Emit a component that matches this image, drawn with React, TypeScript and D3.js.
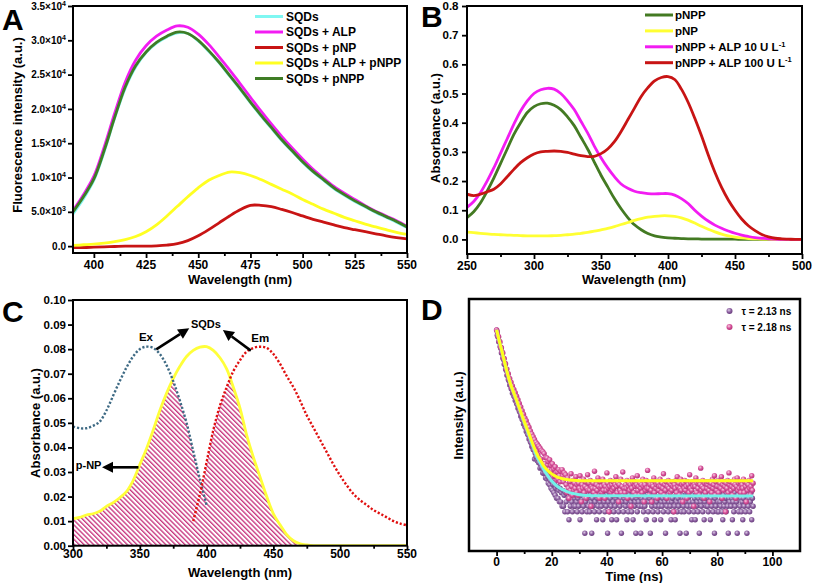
import React, { useEffect, useRef } from 'react';
import * as d3 from 'd3';

const FONT = '"Liberation Sans", Arial, Helvetica, sans-serif';

// ---------------- Panel A : fluorescence spectra ----------------
const A_WAVELENGTH = d3.range(390, 551, 5);
const A_SQDS = [4700, 6900, 9600, 13800, 18700, 23000, 26100, 28200, 29600, 30500, 31100, 31000, 29900, 28400, 26700, 24800, 22900, 20900, 19000, 17200, 15400, 13800, 12200, 10800, 9600, 8400, 7400, 6500, 5700, 4900, 4200, 3500, 2700];
const A_SQDS_ALP = [5200, 7500, 10200, 14500, 19400, 23900, 27100, 29200, 30600, 31500, 32100, 31900, 30900, 29400, 27600, 25700, 23700, 21700, 19700, 17800, 16000, 14300, 12700, 11200, 9900, 8700, 7700, 6800, 5900, 5100, 4400, 3700, 2900];
const A_SQDS_PNP = [-200, -200, -150, -100, -50, 0, 0, 0, 50, 150, 350, 800, 1500, 2400, 3400, 4400, 5300, 5950, 5950, 5750, 5350, 4900, 4400, 3900, 3500, 3100, 2700, 2400, 2100, 1800, 1500, 1250, 1050];
const A_SQDS_ALP_PNPP = [100, 200, 300, 450, 650, 950, 1400, 2100, 3100, 4400, 5800, 7200, 8500, 9600, 10300, 10800, 10700, 10300, 9700, 9000, 8300, 7600, 6800, 6100, 5400, 4800, 4200, 3700, 3200, 2800, 2400, 2000, 1700];
const A_SQDS_PNPP = [5000, 7200, 9800, 14000, 18800, 23200, 26300, 28300, 29700, 30600, 31200, 31000, 30000, 28500, 26800, 24900, 23000, 21000, 19100, 17300, 15500, 13900, 12300, 10900, 9700, 8500, 7500, 6600, 5800, 5000, 4300, 3600, 2800];
const A_NAMES = ['SQDs', 'SQDs + ALP', 'SQDs + pNP', 'SQDs + ALP + pNPP', 'SQDs + pNPP'];
const A_COLORS = ['#7ff7f2', '#f21cf2', '#c81414', '#ffff22', '#3f7d25'];
const A_VALUES = [A_SQDS, A_SQDS_ALP, A_SQDS_PNP, A_SQDS_ALP_PNPP, A_SQDS_PNPP];
const A_X_TICKS = [400, 425, 450, 475, 500, 525, 550];
const A_X_MINOR = [412.5, 437.5, 462.5, 487.5, 512.5, 537.5];
const A_Y_TICKS = [0, 5000, 10000, 15000, 20000, 25000, 30000, 35000];
const A_Y_MANTISSA = ['0.0', '5.0×10', '1.0×10', '1.5×10', '2.0×10', '2.5×10', '3.0×10', '3.5×10'];
const A_Y_EXPONENT = ['', '3', '4', '4', '4', '4', '4', '4'];

// ---------------- Panel B : absorbance spectra ----------------
const B_WAVELENGTH = d3.range(250, 501, 5);
const B_PNPP = [0.075, 0.095, 0.125, 0.165, 0.21, 0.26, 0.31, 0.36, 0.40, 0.435, 0.455, 0.465, 0.467, 0.46, 0.445, 0.42, 0.39, 0.35, 0.31, 0.265, 0.22, 0.18, 0.14, 0.105, 0.075, 0.05, 0.033, 0.02, 0.012, 0.008, 0.005, 0.004, 0.003, 0.002, 0.002, 0.001, 0.001, 0.001, 0.001, 0.001, 0.001, 0, 0, 0, 0, 0, 0, 0, 0, 0, 0];
const B_PNP = [0.025, 0.023, 0.021, 0.019, 0.017, 0.016, 0.015, 0.014, 0.013, 0.012, 0.012, 0.012, 0.012, 0.013, 0.014, 0.016, 0.018, 0.021, 0.024, 0.028, 0.033, 0.038, 0.044, 0.051, 0.058, 0.065, 0.071, 0.076, 0.079, 0.081, 0.081, 0.079, 0.074, 0.066, 0.056, 0.045, 0.035, 0.026, 0.018, 0.012, 0.008, 0.005, 0.003, 0.002, 0.001, 0.001, 0, 0, 0, 0, 0];
const B_ALP10 = [0.11, 0.13, 0.16, 0.20, 0.245, 0.295, 0.345, 0.395, 0.44, 0.475, 0.50, 0.513, 0.518, 0.515, 0.50, 0.475, 0.445, 0.405, 0.365, 0.32, 0.28, 0.245, 0.215, 0.19, 0.175, 0.165, 0.16, 0.157, 0.156, 0.157, 0.157, 0.152, 0.14, 0.123, 0.10, 0.08, 0.063, 0.049, 0.038, 0.029, 0.021, 0.015, 0.01, 0.006, 0.004, 0.002, 0.001, 0, 0, 0, 0];
const B_ALP100 = [0.155, 0.15, 0.155, 0.163, 0.172, 0.19, 0.215, 0.24, 0.263, 0.28, 0.293, 0.30, 0.302, 0.303, 0.302, 0.298, 0.292, 0.287, 0.284, 0.285, 0.294, 0.31, 0.335, 0.37, 0.41, 0.45, 0.49, 0.52, 0.543, 0.555, 0.558, 0.548, 0.515, 0.47, 0.415, 0.355, 0.29, 0.23, 0.178, 0.135, 0.10, 0.07, 0.047, 0.03, 0.017, 0.009, 0.004, 0.002, 0.001, 0, 0];
const B_NAMES = ['pNPP', 'pNP', 'pNPP + ALP 10 U L', 'pNPP + ALP 100 U L'];
const B_SUPER = ['', '', '-1', '-1'];
const B_COLORS = ['#437a22', '#ffff33', '#f21cf2', '#c81414'];
const B_VALUES = [B_PNPP, B_PNP, B_ALP10, B_ALP100];
const B_X_TICKS = [250, 300, 350, 400, 450, 500];
const B_X_MINOR = [275, 325, 375, 425, 475];
const B_Y_TICKS = [0, 0.1, 0.2, 0.3, 0.4, 0.5, 0.6, 0.7, 0.8];

// ---------------- Panel C : spectral overlap ----------------
const C_EX_WL = d3.range(300, 401, 5);
const C_EX = [0.0485, 0.0478, 0.0478, 0.0488, 0.0505, 0.055, 0.061, 0.067, 0.0725, 0.077, 0.080, 0.081, 0.0805, 0.078, 0.0735, 0.067, 0.059, 0.050, 0.0385, 0.027, 0.0165];
const C_EM_WL = d3.range(390, 551, 5);
const C_EM = [0.010, 0.021, 0.034, 0.047, 0.057, 0.0645, 0.071, 0.0755, 0.079, 0.0805, 0.081, 0.0805, 0.078, 0.074, 0.069, 0.0645, 0.059, 0.053, 0.048, 0.043, 0.038, 0.033, 0.0285, 0.0245, 0.021, 0.0185, 0.0165, 0.0145, 0.013, 0.0115, 0.010, 0.009, 0.0083];
const C_PNP_WL = d3.range(300, 551, 5);
const C_PNP = [0.011, 0.0115, 0.0125, 0.013, 0.014, 0.016, 0.0175, 0.0195, 0.022, 0.0265, 0.033, 0.0395, 0.047, 0.055, 0.062, 0.068, 0.073, 0.077, 0.0795, 0.0808, 0.081, 0.0795, 0.0765, 0.072, 0.0645, 0.056, 0.045, 0.036, 0.028, 0.020, 0.013, 0.0085, 0.0045, 0.002, 0.0008, 0.0003, 0, 0, 0, 0, 0, 0, 0, 0, 0, 0, 0, 0, 0, 0, 0];
const C_X_TICKS = [300, 350, 400, 450, 500, 550];
const C_X_MINOR = [325, 375, 425, 475, 525];
const C_Y_TICKS = [0, 0.01, 0.02, 0.03, 0.04, 0.05, 0.06, 0.07, 0.08, 0.09, 0.10];

// ---------------- Panel D : fluorescence decay (counts per 0.25 ns channel) ----------------
const D_STEP = 0.25;
const D_PINK_DECAY = [
  33100, 30100, 24300, 23200, 18600, 17800, 13700, 13300, 10700, 10200, 7800, 7660, 6030, 5880, 4430, 4460,
  3470, 3530, 2720, 2770, 2180, 2290, 1760, 1880, 1445, 1580, 1230, 1340, 1000, 1110, 840, 930,
  690, 770, 556, 645, 457, 530, 387, 443, 315, 367, 257, 316, 214, 263, 187, 227,
  151, 189, 123, 162, 107, 140, 85, 121, 71, 105, 67, 96, 55, 86, 46, 78,
  45, 69, 36, 65, 34, 59, 35, 48, 27, 47, 33, 39, 26, 43, 22, 32,
  25, 35, 18, 27, 19, 30, 22, 15, 23, 16, 26, 19, 14, 24, 17, 26, 19, 14, 22, 17, 20
];
const D_PINK_TAIL = [
  12, 8, 17, 10, 6, 14, 9, 21, 11, 7, 15, 9, 13, 10, 18, 8, 12,
  7, 13, 10, 19, 9, 5, 12, 10, 16, 8, 11, 14, 6, 10, 20, 9, 13,
  9, 15, 4, 11, 10, 13, 8, 24, 10, 7, 12, 9, 17, 11, 6, 14, 10,
  11, 8, 16, 9, 12, 6, 11, 9, 22, 13, 10, 3, 11, 15, 8, 12, 9,
  14, 10, 7, 12, 18, 11, 8, 13, 5, 12, 9, 16, 8, 11, 23, 7, 10,
  8, 12, 10, 15, 6, 11, 13, 9, 12, 4, 10, 17, 13, 8, 14, 11, 7,
  12, 19, 9, 11, 7, 13, 10, 12, 8, 16, 11, 5, 12, 9, 15, 10, 25,
  10, 7, 13, 12, 9, 5, 12, 11, 17, 8, 14, 10, 12, 6, 13, 9, 11,
  16, 11, 8, 13, 10, 21, 7, 12, 9, 14, 6, 11, 15, 10, 13, 8, 12,
  9, 14, 11, 3, 12, 10, 15, 8, 18, 11, 13, 7, 10, 16, 9, 12, 5,
  13, 10, 15, 9, 11, 6, 14, 12, 8, 20, 10, 13, 9, 14, 11, 4, 12,
  11, 17, 8, 13, 10, 14, 7, 12, 28, 9, 11, 15, 10, 6, 13, 8, 14,
  10, 12, 14, 9, 5, 11, 13, 8, 16, 10, 12, 19, 7, 14, 9, 11, 15,
  8, 11, 13, 10, 18, 6, 12, 9, 14, 11, 3, 13, 10, 15, 8, 22, 12,
  14, 9, 11, 7, 13, 10, 16, 12, 6, 11, 17, 9, 13, 10, 14, 8, 11,
  12, 10, 16, 8, 14, 11, 5, 13, 9, 12, 15, 10, 7, 11, 19, 9, 13
];
const D_PURPLE_DECAY = [
  33100, 25200, 23000, 18000, 17900, 14100, 13000, 10200, 10200, 8000, 7300, 5700, 5700, 4500, 4160, 3270,
  3280, 2630, 2460, 1970, 2020, 1650, 1590, 1300, 1360, 1120, 1080, 890, 930, 765, 730, 600,
  625, 514, 490, 400, 420, 344, 330, 270, 281, 232, 223, 183, 192, 158, 152, 125,
  131, 108, 103, 85, 89, 73, 71, 45, 60, 50, 49, 41, 44, 37, 37, 28,
  34, 29, 29, 22, 26, 21, 22, 17, 21, 16, 18, 13, 17, 12, 15, 10,
  14, 9, 12, 8, 12, 7, 10, 6, 11, 6, 9, 5, 10, 5, 8, 4, 9, 4, 7, 3, 8
];
const D_PURPLE_TAIL = [
  5, 8, 3, 6, 2, 9, 4, 7, 5, 3, 10, 4, 6, 4, 7, 5, 3,
  6, 4, 8, 2, 5, 7, 3, 9, 4, 6, 1, 5, 11, 3, 7, 4, 6,
  3, 7, 5, 1, 6, 4, 8, 3, 5, 9, 2, 6, 4, 7, 3, 5, 12,
  4, 6, 2, 7, 5, 3, 9, 4, 6, 1, 5, 8, 3, 6, 4, 2, 7,
  5, 3, 8, 4, 6, 2, 7, 5, 3, 10, 4, 6, 1, 5, 7, 3, 6,
  8, 4, 5, 2, 6, 3, 7, 4, 9, 5, 3, 6, 2, 8, 4, 5, 1,
  6, 3, 7, 5, 4, 11, 1, 6, 4, 5, 3, 7, 4, 6, 2, 9, 5,
  3, 5, 6, 1, 8, 4, 5, 3, 7, 2, 6, 4, 5, 9, 3, 6, 4,
  7, 2, 5, 4, 6, 3, 8, 5, 1, 6, 4, 7, 3, 5, 10, 4, 2,
  5, 6, 3, 9, 4, 2, 7, 5, 3, 6, 4, 8, 1, 5, 3, 7, 6,
  4, 3, 6, 5, 1, 8, 4, 6, 3, 5, 12, 4, 2, 7, 5, 3, 6,
  2, 7, 4, 5, 3, 6, 1, 8, 5, 4, 6, 3, 7, 2, 5, 9, 4,
  6, 4, 3, 7, 5, 2, 6, 4, 10, 3, 5, 1, 6, 4, 8, 3, 5,
  3, 8, 5, 4, 6, 3, 2, 7, 4, 5, 6, 3, 9, 4, 1, 6, 5,
  7, 4, 6, 2, 5, 3, 8, 4, 6, 5, 1, 7, 3, 11, 4, 6, 3,
  5, 2, 6, 4, 9, 3, 5, 1, 7, 4, 6, 3, 5, 8, 2, 6, 4
];
const D_PINK = [...D_PINK_DECAY, ...D_PINK_TAIL];
const D_PURPLE = [...D_PURPLE_DECAY, ...D_PURPLE_TAIL];
const D_FIT_T = [0, 1, 2, 3, 4, 5, 6, 7, 8, 9, 10, 11, 12, 13, 14, 15, 16, 17, 18, 19, 20, 21, 22, 23, 24, 26, 28, 30, 35, 93];
const D_FIT_PINK = [33100, 18600, 10700, 6030, 3470, 2140, 1445, 1000, 676, 457, 309, 214, 148, 102, 71, 52, 41, 32, 27, 23.4, 20.9, 19.1, 17.8, 17, 16.2, 15.5, 15, 14.8, 14.7, 14.7];
const D_FIT_PURPLE = [33100, 18500, 10500, 5900, 3380, 2080, 1400, 960, 645, 432, 290, 198, 135, 92, 62, 45, 35, 27, 21.5, 17.5, 14.5, 12.5, 11, 10, 9.3, 8.2, 7.6, 7.2, 6.8, 6.7];
const D_LEGEND = ['τ = 2.13 ns', 'τ = 2.18 ns'];
const D_X_TICKS = [0, 20, 40, 60, 80, 100];
const D_X_MINOR = [10, 30, 50, 70, 90];

type Sel = d3.Selection<any, any, any, any>;

function ticks(g: Sel, axis: any, transform: string) {
  const a = g.append('g').attr('transform', transform).call(axis);
  a.select('.domain').remove();
  a.selectAll('text').remove();
  a.selectAll('line').attr('stroke', '#000').attr('stroke-width', 1.8);
}

function text(g: Sel, x: number, y: number, s: string, size: number, anchor = 'middle') {
  return g.append('text').attr('x', x).attr('y', y).attr('font-size', size).attr('text-anchor', anchor).attr('fill', '#000').text(s);
}

function frame(g: Sel, x0: number, y0: number, x1: number, y1: number, w = 2) {
  g.append('rect').attr('x', x0).attr('y', y0).attr('width', x1 - x0).attr('height', y1 - y0)
    .attr('fill', 'none').attr('stroke', '#000').attr('stroke-width', w);
}

function interp(xs: number[], ys: number[], x: number): number | null {
  if (x < xs[0] || x > xs[xs.length - 1]) return null;
  for (let i = 0; i < xs.length - 1; i++) {
    if (x >= xs[i] && x <= xs[i + 1]) {
      const t = (x - xs[i]) / (xs[i + 1] - xs[i]);
      return ys[i] + t * (ys[i + 1] - ys[i]);
    }
  }
  return ys[ys.length - 1];
}

function arrow(g: Sel, x1: number, y1: number, x2: number, y2: number) {
  const dx = x2 - x1, dy = y2 - y1;
  const len = Math.hypot(dx, dy);
  const ux = dx / len, uy = dy / len;
  const hl = 11, hw = 5.5;
  const bx = x2 - ux * hl, by = y2 - uy * hl;
  g.append('line').attr('x1', x1).attr('y1', y1).attr('x2', bx).attr('y2', by).attr('stroke', '#000').attr('stroke-width', 2.6);
  g.append('path').attr('d', `M${x2},${y2}L${bx - uy * hw},${by + ux * hw}L${bx + uy * hw},${by - ux * hw}Z`).attr('fill', '#000');
}

export default function App() {
  const ref = useRef<SVGSVGElement>(null);

  useEffect(() => {
    const svg = d3.select(ref.current);
    svg.selectAll('*').remove();
    const defs = svg.append('defs');

    // ================= Panel A =================
    {
      const g = svg.append('g');
      const x = d3.scaleLinear().domain([390, 550]).range([73, 407]);
      const y = d3.scaleLinear().domain([-1000, 35000]).range([253, 6]);
      defs.append('clipPath').attr('id', 'clipA').append('rect').attr('x', 73).attr('y', 6).attr('width', 334).attr('height', 247);
      const line = d3.line<number>().x((_, i) => x(A_WAVELENGTH[i])).y(d => y(d)).curve(d3.curveCatmullRom);
      A_VALUES.forEach((vals, k) => {
        g.append('path').attr('clip-path', 'url(#clipA)').attr('d', line(vals) as string)
          .attr('fill', 'none').attr('stroke', A_COLORS[k]).attr('stroke-width', 2.8);
      });
      frame(g, 73, 6, 407, 253);
      ticks(g, d3.axisBottom(x).tickValues(A_X_TICKS).tickSize(5), 'translate(0,253)');
      ticks(g, d3.axisBottom(x).tickValues(A_X_MINOR).tickSize(3), 'translate(0,253)');
      ticks(g, d3.axisLeft(y).tickValues(A_Y_TICKS).tickSize(5), 'translate(73,0)');
      A_X_TICKS.forEach(v => text(g, x(v), 269, String(v), 12));
      A_Y_TICKS.forEach((v, i) => {
        const t = g.append('text').attr('x', 66).attr('y', y(v) + 3.6).attr('font-size', 10).attr('text-anchor', 'end');
        t.append('tspan').text(A_Y_MANTISSA[i]);
        if (A_Y_EXPONENT[i]) t.append('tspan').attr('dy', -4).attr('font-size', 7).text(A_Y_EXPONENT[i]);
      });
      text(g, 240, 283.5, 'Wavelength (nm)', 13);
      text(g, 0, 0, 'Fluorescence intensity (a.u.)', 13).attr('transform', 'translate(21.5,125) rotate(-90)');
      A_NAMES.forEach((n, i) => {
        const yy = 16.5 + i * 15.5;
        g.append('line').attr('x1', 255).attr('x2', 283).attr('y1', yy).attr('y2', yy).attr('stroke', A_COLORS[i]).attr('stroke-width', 3);
        text(g, 286, yy + 4.3, n, 12, 'start');
      });
      text(g, 2, 30, 'A', 30, 'start');
    }

    // ================= Panel B =================
    {
      const g = svg.append('g');
      const x = d3.scaleLinear().domain([250, 500]).range([467, 802]);
      const y = d3.scaleLinear().domain([-0.05, 0.8]).range([254, 6]);
      defs.append('clipPath').attr('id', 'clipB').append('rect').attr('x', 467).attr('y', 6).attr('width', 335).attr('height', 248);
      const line = d3.line<number>().x((_, i) => x(B_WAVELENGTH[i])).y(d => y(d)).curve(d3.curveCatmullRom);
      B_VALUES.forEach((vals, k) => {
        g.append('path').attr('clip-path', 'url(#clipB)').attr('d', line(vals) as string)
          .attr('fill', 'none').attr('stroke', B_COLORS[k]).attr('stroke-width', 2.8);
      });
      frame(g, 467, 6, 802, 254);
      ticks(g, d3.axisBottom(x).tickValues(B_X_TICKS).tickSize(5), 'translate(0,254)');
      ticks(g, d3.axisBottom(x).tickValues(B_X_MINOR).tickSize(3), 'translate(0,254)');
      ticks(g, d3.axisLeft(y).tickValues(B_Y_TICKS).tickSize(5), 'translate(467,0)');
      B_X_TICKS.forEach(v => text(g, x(v), 270, String(v), 12));
      B_Y_TICKS.forEach(v => text(g, 458.5, y(v) + 4, v.toFixed(1), 11.5, 'end'));
      text(g, 634, 283.5, 'Wavelength (nm)', 13);
      text(g, 0, 0, 'Absorbance (a.u.)', 13).attr('transform', 'translate(439.5,128) rotate(-90)');
      B_NAMES.forEach((n, i) => {
        const yy = 15 + i * 15.9;
        g.append('line').attr('x1', 645).attr('x2', 673).attr('y1', yy).attr('y2', yy).attr('stroke', B_COLORS[i]).attr('stroke-width', 3);
        const t = g.append('text').attr('x', 675).attr('y', yy + 4.2).attr('font-size', 11.5);
        t.append('tspan').text(n);
        if (B_SUPER[i]) t.append('tspan').attr('dy', -4.5).attr('font-size', 7.5).text(B_SUPER[i]);
      });
      text(g, 421, 27, 'B', 30, 'start');
    }

    // ================= Panel C =================
    {
      const g = svg.append('g');
      const x = d3.scaleLinear().domain([300, 550]).range([73, 407]);
      const y = d3.scaleLinear().domain([0, 0.1]).range([545.7, 300]);
      defs.append('clipPath').attr('id', 'clipC').append('rect').attr('x', 73).attr('y', 300).attr('width', 334).attr('height', 245.7);
      const pat = defs.append('pattern').attr('id', 'hatch').attr('patternUnits', 'userSpaceOnUse')
        .attr('width', 3.4).attr('height', 3.4).attr('patternTransform', 'rotate(-45)');
      pat.append('rect').attr('x', 0).attr('y', 0).attr('width', 1.35).attr('height', 3.4).attr('fill', '#c8367f');

      // overlap region: under min(pNP, max(Ex, Em))
      const lam = d3.range(300, 480.01, 0.5);
      const pts = lam.map(l => {
        const yp = interp(C_PNP_WL, C_PNP, l) ?? 0;
        const ex = interp(C_EX_WL, C_EX, l) ?? 0;
        const em = interp(C_EM_WL, C_EM, l) ?? 0;
        return [l, Math.max(0, Math.min(yp, Math.max(ex, em)))] as [number, number];
      });
      const area = d3.area<[number, number]>().x(d => x(d[0])).y0(y(0)).y1(d => y(d[1]));
      g.append('path').attr('clip-path', 'url(#clipC)').attr('d', area(pts) as string).attr('fill', 'url(#hatch)');

      const lineP = d3.line<number>().x((_, i) => x(C_PNP_WL[i])).y(d => y(d)).curve(d3.curveCatmullRom);
      g.append('path').attr('clip-path', 'url(#clipC)').attr('d', lineP(C_PNP) as string)
        .attr('fill', 'none').attr('stroke', '#ffff3a').attr('stroke-width', 2.8);
      const lineEx = d3.line<number>().x((_, i) => x(C_EX_WL[i])).y(d => y(d)).curve(d3.curveCatmullRom);
      g.append('path').attr('clip-path', 'url(#clipC)').attr('d', lineEx(C_EX) as string)
        .attr('fill', 'none').attr('stroke', '#3e6a84').attr('stroke-width', 2.4).attr('stroke-dasharray', '2.2 1.9');
      const lineEm = d3.line<number>().x((_, i) => x(C_EM_WL[i])).y(d => y(d)).curve(d3.curveCatmullRom);
      g.append('path').attr('clip-path', 'url(#clipC)').attr('d', lineEm(C_EM) as string)
        .attr('fill', 'none').attr('stroke', '#e01010').attr('stroke-width', 2.4).attr('stroke-dasharray', '2.2 1.9');

      frame(g, 73, 300, 407, 545.7);
      ticks(g, d3.axisBottom(x).tickValues(C_X_TICKS).tickSize(5), 'translate(0,545.7)');
      ticks(g, d3.axisBottom(x).tickValues(C_X_MINOR).tickSize(3), 'translate(0,545.7)');
      ticks(g, d3.axisLeft(y).tickValues(C_Y_TICKS).tickSize(5), 'translate(73,0)');
      C_X_TICKS.forEach(v => text(g, x(v), 558, String(v), 12));
      C_Y_TICKS.forEach(v => text(g, 66, y(v) + 4, v.toFixed(2), 11.5, 'end'));
      text(g, 240, 576.5, 'Wavelength (nm)', 13);
      text(g, 0, 0, 'Absorbance (a.u.)', 13).attr('transform', 'translate(39.5,423) rotate(-90)');

      // annotations
      text(g, x(354.6), y(0.0848) + 4, 'Ex', 11.5);
      text(g, x(399.5), y(0.0901) + 4, 'SQDs', 11);
      text(g, x(440.1), y(0.0847) + 4, 'Em', 11.5);
      text(g, x(311.7), y(0.0328) + 4, 'p-NP', 11);
      arrow(g, x(362.3), y(0.0799), x(387), y(0.0885));
      arrow(g, x(433.1), y(0.0794), x(412.2), y(0.0878));
      arrow(g, x(349), y(0.0319), x(321.7), y(0.0319));
      text(g, 2, 322, 'C', 30, 'start');
    }

    // ================= Panel D =================
    {
      const g = svg.append('g');
      const x = d3.scaleLinear().domain([-10, 110]).range([469, 800]);
      const y = d3.scaleLog().domain([0.404, 161000]).range([551, 299]);
      defs.append('clipPath').attr('id', 'clipD').append('rect').attr('x', 469).attr('y', 299).attr('width', 331).attr('height', 252);
      const gp = defs.append('radialGradient').attr('id', 'ballPurple').attr('cx', '40%').attr('cy', '35%').attr('r', '65%');
      gp.append('stop').attr('offset', '0%').attr('stop-color', '#dccbe5');
      gp.append('stop').attr('offset', '55%').attr('stop-color', '#8c5fa0');
      gp.append('stop').attr('offset', '100%').attr('stop-color', '#6a3f7e');
      const gk = defs.append('radialGradient').attr('id', 'ballPink').attr('cx', '40%').attr('cy', '35%').attr('r', '65%');
      gk.append('stop').attr('offset', '0%').attr('stop-color', '#f8cde2');
      gk.append('stop').attr('offset', '55%').attr('stop-color', '#d64f99');
      gk.append('stop').attr('offset', '100%').attr('stop-color', '#b43679');

      const dots = g.append('g').attr('clip-path', 'url(#clipD)');
      dots.selectAll('circle.p').data(D_PURPLE).join('circle').attr('class', 'p')
        .attr('cx', (_, i) => x(i * D_STEP)).attr('cy', d => y(d)).attr('r', 2.7).attr('fill', 'url(#ballPurple)');
      dots.selectAll('circle.k').data(D_PINK).join('circle').attr('class', 'k')
        .attr('cx', (_, i) => x(i * D_STEP)).attr('cy', d => y(d)).attr('r', 2.7).attr('fill', 'url(#ballPink)');

      const fit = d3.line<number>().x((_, i) => x(D_FIT_T[i])).y(d => y(d)).curve(d3.curveMonotoneX);
      g.append('path').attr('d', fit(D_FIT_PURPLE) as string).attr('fill', 'none').attr('stroke', '#72f2ea').attr('stroke-width', 3);
      g.append('path').attr('d', fit(D_FIT_PINK) as string).attr('fill', 'none').attr('stroke', '#ffff1a').attr('stroke-width', 3);

      frame(g, 469, 299, 800, 551, 2.5);
      ticks(g, d3.axisBottom(x).tickValues(D_X_TICKS).tickSize(5), 'translate(0,551)');
      ticks(g, d3.axisBottom(x).tickValues(D_X_MINOR).tickSize(3), 'translate(0,551)');
      D_X_TICKS.forEach(v => text(g, x(v), 565.5, String(v), 12));
      text(g, 634, 580.5, 'Time (ns)', 13);
      text(g, 0, 0, 'Intensity (a.u.)', 13).attr('transform', 'translate(463,415.5) rotate(-90)');

      D_LEGEND.forEach((n, i) => {
        const yy = 311 + i * 16;
        g.append('circle').attr('cx', 729.5).attr('cy', yy).attr('r', 3).attr('fill', i === 0 ? 'url(#ballPurple)' : 'url(#ballPink)');
        text(g, 741.5, yy + 3.7, n, 10, 'start');
      });
      text(g, 421, 320, 'D', 30, 'start');
    }
  }, []);

  return (
    <svg
      ref={ref}
      width={813}
      height={583}
      style={{ position: 'absolute', left: 0, top: 0, background: '#fff' }}
      fontFamily={FONT}
      fontWeight="bold"
    />
  );
}
